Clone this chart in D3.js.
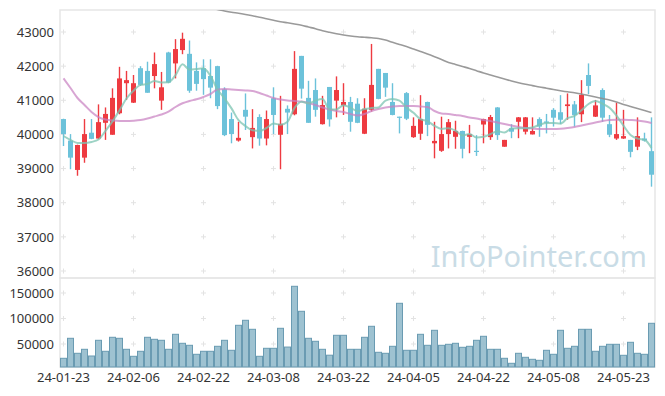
<!DOCTYPE html>
<html><head><meta charset="utf-8">
<script src="https://cdn.jsdelivr.net/npm/d3@7"></script>
<style>
html,body{margin:0;padding:0;background:#fff;}
svg{display:block;}
</style>
</head><body>
<svg id="chart" width="665" height="396"></svg>
<script>
const dates = ["24-01-23","24-01-24","24-01-25","24-01-26","24-01-29","24-01-30","24-01-31","24-02-01","24-02-02","24-02-05",
"24-02-06","24-02-07","24-02-08","24-02-13","24-02-14","24-02-15","24-02-16","24-02-19","24-02-20","24-02-21",
"24-02-22","24-02-23","24-02-26","24-02-27","24-02-28","24-02-29","24-03-04","24-03-05","24-03-06","24-03-07",
"24-03-08","24-03-11","24-03-12","24-03-13","24-03-14","24-03-15","24-03-18","24-03-19","24-03-20","24-03-21",
"24-03-22","24-03-25","24-03-26","24-03-27","24-03-28","24-03-29","24-04-01","24-04-02","24-04-03","24-04-04",
"24-04-05","24-04-08","24-04-09","24-04-11","24-04-12","24-04-15","24-04-16","24-04-17","24-04-18","24-04-19",
"24-04-22","24-04-23","24-04-24","24-04-25","24-04-26","24-04-29","24-04-30","24-05-02","24-05-03","24-05-07",
"24-05-08","24-05-09","24-05-10","24-05-13","24-05-14","24-05-16","24-05-17","24-05-20","24-05-21","24-05-22",
"24-05-23","24-05-24","24-05-27","24-05-28","24-05-29"];

const opens = [40450,39820,38960,39320,40050,39880,40340,39990,40620,41500,
40930,41940,41860,41710,40990,42400,42080,42470,42360,41860,
41940,41710,42000,41320,40450,39820,40720,39920,40510,39880,
41060,39990,40750,40590,42300,41070,41300,40300,41390,40990,
40850,40950,40900,40020,40720,41920,41800,40950,40520,41210,
39920,40020,40950,39740,39520,40010,39930,40100,39930,39520,
40290,39920,40790,39640,40180,40370,40080,40000,40450,40380,
40720,40650,40830,40880,40590,41740,40520,41300,40300,39880,
39880,39840,39640,39880,39510];
const highs = [40460,40010,39700,40450,40450,40880,40790,41350,41980,41860,
41740,42000,42130,42400,41830,42420,42790,42980,42750,42110,
42200,42200,42010,41380,40640,40370,41200,40740,40590,40700,
41380,41130,40850,42440,42300,41570,41640,41130,41390,41700,
41500,41100,41060,41060,42650,41920,41800,41500,40520,41240,
40500,41150,40960,40370,40520,40450,40400,40110,40280,39980,
40460,40570,40800,39840,40300,40510,40510,40500,40500,40600,
40770,41150,41200,40980,41590,42080,41010,41350,40570,40930,
40720,39840,40500,40050,40500];
const lows = [39660,38980,38790,39170,39860,39860,39840,39990,40590,41010,
40920,41420,41220,41350,40720,41500,41640,42350,41220,41280,
41160,41060,40740,39950,39740,39790,40130,39590,39670,39680,
40010,38980,40010,40560,41050,40340,40520,40290,40230,40500,
40570,40080,40330,40010,40670,41030,41100,40560,40030,40420,
39900,39840,39950,39300,39490,39590,39580,39300,39450,39370,
39740,39840,39840,39640,39890,39890,40000,40000,39930,40030,
40230,40300,40430,40230,40360,41180,40510,40370,39920,39840,
39870,39330,39540,39790,38470];
const closes = [40010,39320,39690,40010,39870,40360,40600,41070,41640,41590,
41500,41450,41220,42060,41380,41520,42500,42800,41280,41480,
41620,41370,40830,39980,40010,39900,40520,40190,39880,40450,
40570,40310,40640,41920,41340,40340,40720,40860,40440,41300,
40950,40370,40340,40750,41450,41040,41370,40570,40510,40460,
40250,40450,40280,39810,40010,40360,40100,39580,40010,39510,
40450,40510,39980,39840,40080,40500,40500,40100,40230,40340,
40490,40430,40880,40570,41160,41420,40850,40490,39990,40010,
39950,39490,39950,39820,38820];
// closes of the four sessions before the first shown day
const prevCloses = [39900,40130,40010,39720];

const volumes = [21960,61180,31760,39610,26470,57250,35690,63140,61180,39610,
25880,35690,63140,59220,57250,39610,69020,51370,47450,29800,
35690,35690,45490,57250,37650,86670,96470,78820,25880,41570,
41570,80780,44000,163140,114120,61180,55290,39610,28040,67060,
67060,39610,39610,63140,84710,33730,31760,45490,129800,37650,
37650,69020,47450,76860,47450,49410,51370,43530,45490,57250,
65100,39610,39610,21960,12160,31760,23920,20000,18040,37650,
29800,76860,41570,45490,78820,78820,35690,45490,49410,49410,
27840,53330,31760,29800,90590];

const ma20 = [41644,41360,41067,40862,40657,40510,40437,40408,40393,40393,
40402,40422,40466,40525,40584,40666,40803,40912,40979,41029,
41096,41184,41316,41330,41316,41301,41287,41272,41213,41140,
41067,41023,40994,40979,40964,40920,40862,40789,40730,40686,
40657,40598,40554,40598,40686,40745,40789,40818,40833,40833,
40833,40818,40803,40686,40613,40598,40569,40540,40496,40466,
40422,40393,40349,40305,40261,40217,40188,40173,40159,40159,
40159,40168,40188,40217,40261,40305,40349,40393,40422,40431,
40431,40422,40408,40378,40335];

// 60-day line; values left of the entry point lie above the chart and cannot be read
const ma60 = [null,null,null,null,null,null,null,null,null,null,
null,null,null,null,null,null,null,null,null,null,
null,43703,43659,43615,43577,43548,43513,43474,43433,43387,
43343,43302,43269,43234,43196,43146,43097,43038,42991,42947,
42912,42883,42859,42845,42830,42810,42766,42698,42634,42575,
42502,42429,42356,42277,42195,42107,42049,41990,41931,41866,
41799,41741,41682,41623,41565,41512,41468,41430,41389,41354,
41316,41281,41248,41219,41184,41140,41096,41052,41008,40950,
40877,40818,40759,40701,40642];

const priceTicks = [36000,37000,38000,39000,40000,41000,42000,43000];
const volumeTicks = [50000,100000,150000];
const xTickLabels = ["24-01-23","24-02-06","24-02-22","24-03-08","24-03-22","24-04-05","24-04-22","24-05-08","24-05-23"];

// ---- layout ----
const L = 60, R = 655, PT = 10, PB = 278, VT = 278, VB = 367;
const UP = "#ee3b41", DOWN = "#6cc2da";
const svg = d3.select("#chart");
const font = "'Noto Sans', 'Liberation Sans', sans-serif";

const x = d3.scaleBand().domain(dates).range([L, R]).padding(0);
const cx = d => x(d) + x.bandwidth() / 2;
const y = d3.scaleLinear().domain([35795, 43644]).range([PB, PT]);
const yv = d3.scaleLinear().domain([4900, 179400]).range([VB, VT]);

// panel frames
const frame = svg.append("g").attr("stroke", "#e6e6e6").attr("fill", "none").attr("stroke-width", 1.5);
frame.append("rect").attr("x", L).attr("y", PT).attr("width", R - L).attr("height", PB - PT);
frame.append("rect").attr("x", L).attr("y", VT).attr("width", R - L).attr("height", VB - VT);

// grid crosses
const grid = svg.append("g").attr("stroke", "#e3e3e3").attr("stroke-width", 1);
const gx = xTickLabels.map(cx);
function crosses(ys) {
  gx.forEach(px => ys.forEach(py => {
    grid.append("line").attr("x1", px - 2.5).attr("x2", px + 2.5).attr("y1", py).attr("y2", py);
    grid.append("line").attr("x1", px).attr("x2", px).attr("y1", py - 2.5).attr("y2", py + 2.5);
  }));
}
crosses(priceTicks.map(y));
crosses(volumeTicks.map(yv));

// watermark
svg.append("text").attr("x", 647).attr("y", 267).attr("text-anchor", "end")
  .attr("font-family", font).attr("font-size", 29).attr("fill", "#c9dce6")
  .text("InfoPointer.com");

// clip for price panel
svg.append("clipPath").attr("id", "pclip").append("rect")
  .attr("x", L).attr("y", PT).attr("width", R - L).attr("height", PB - PT);

// candles
const data = dates.map((d, i) => ({d, o: opens[i], h: highs[i], l: lows[i], c: closes[i], v: volumes[i]}));
const cg = svg.append("g").attr("clip-path", "url(#pclip)");
const candle = cg.selectAll("g.c").data(data).join("g").attr("class", "c");
candle.append("line")
  .attr("x1", d => cx(d.d)).attr("x2", d => cx(d.d))
  .attr("y1", d => y(d.h)).attr("y2", d => y(d.l))
  .attr("stroke", d => d.c >= d.o ? UP : DOWN).attr("stroke-width", 1.4);
candle.append("rect")
  .attr("x", d => cx(d.d) - 2.5).attr("width", 5)
  .attr("y", d => y(Math.max(d.o, d.c)))
  .attr("height", d => Math.max(1.2, Math.abs(y(d.o) - y(d.c))))
  .attr("fill", d => d.c >= d.o ? UP : DOWN);

// moving averages
const allCloses = prevCloses.concat(closes);
const ma5 = closes.map((c, i) => d3.mean(allCloses.slice(i, i + 5)));
const line = d3.line().defined(v => v[1] != null).x(v => cx(v[0])).y(v => y(v[1])).curve(d3.curveMonotoneX);
function drawLine(vals, color, w, op) {
  cg.append("path").datum(dates.map((d, i) => [d, vals[i]]))
    .attr("d", line).attr("fill", "none").attr("stroke", color)
    .attr("stroke-width", w).attr("stroke-opacity", op);
}
drawLine(ma60, "#8f8f8f", 1.6, 0.9);
drawLine(ma20, "#c77fc0", 2, 0.7);
drawLine(ma5, "#7cc4b2", 2, 0.75);

// volume bars
svg.append("g").selectAll("rect").data(data).join("rect")
  .attr("x", d => x(d.d) + 0.5).attr("width", x.bandwidth() - 1)
  .attr("y", d => yv(d.v)).attr("height", d => VB - yv(d.v))
  .attr("fill", "#94bbcc").attr("fill-opacity", 0.9)
  .attr("stroke", "#6a9bb2").attr("stroke-width", 1);

// axes
const axisStyle = g => {
  g.select(".domain").remove();
  g.selectAll("text").attr("font-family", font).attr("font-size", 13).attr("fill", "#333");
};
svg.append("g").attr("transform", `translate(${L - 4},0)`)
  .call(d3.axisLeft(y).tickValues(priceTicks).tickSize(0).tickPadding(2).tickFormat(d3.format("d")))
  .call(axisStyle);
svg.append("g").attr("transform", `translate(${L - 4},0)`)
  .call(d3.axisLeft(yv).tickValues(volumeTicks).tickSize(0).tickPadding(2).tickFormat(d3.format("d")))
  .call(axisStyle);
svg.append("g").attr("transform", `translate(0,${VB + 2})`)
  .call(d3.axisBottom(x).tickValues(xTickLabels).tickSize(0).tickPadding(4))
  .call(axisStyle);
</script>
</body></html>
